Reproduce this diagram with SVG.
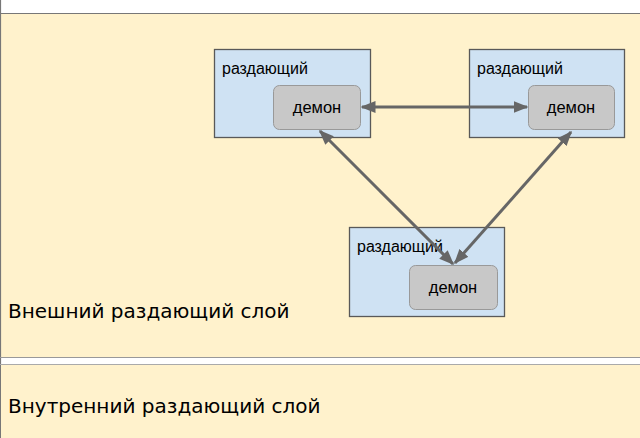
<svg xmlns="http://www.w3.org/2000/svg" width="640" height="438" viewBox="0 0 640 438">
<style>
.layer{fill:#fff2cc;}
.lt{font-family:"DejaVu Sans",sans-serif;font-size:20px;fill:#000;}
.node{fill:#cfe2f3;stroke:#595959;stroke-width:1.3;}
.dm{fill:#c8c8c8;stroke:#999;stroke-width:1;}
.nt{font-family:"Liberation Sans",Arial,sans-serif;font-size:16px;fill:#000;}
.dt{font-family:"Liberation Sans",Arial,sans-serif;font-size:16.5px;fill:#000;text-anchor:middle;}
.c{stroke:#666;stroke-width:3;fill:none;marker-start:url(#ah);marker-end:url(#ah);}
</style>
<defs>
<marker id="ah" viewBox="0 0 10 8" refX="9" refY="4" markerWidth="5" markerHeight="4" orient="auto-start-reverse" markerUnits="strokeWidth">
<path d="M0,0 L10,4 L0,8 z" fill="#666"/>
</marker>
</defs>
<rect x="0" y="0" width="640" height="438" fill="#fff"/>
<g id="outer-layer">
<rect class="layer" x="1" y="14" width="639" height="343"/>
<line x1="0" y1="13.5" x2="640" y2="13.5" stroke="#777" stroke-width="1.2"/>
<line x1="0.5" y1="0" x2="0.5" y2="438" stroke="#777" stroke-width="1.2"/>
<line x1="0" y1="357.5" x2="640" y2="357.5" stroke="#999" stroke-width="1.2"/>
<text class="lt" x="8" y="318">Внешний раздающий слой</text>
</g>
<g id="inner-layer">
<rect class="layer" x="1" y="365" width="639" height="73"/>
<line x1="0" y1="364.5" x2="640" y2="364.5" stroke="#aaa" stroke-width="1.2"/>
<text class="lt" x="8" y="413">Внутренний раздающий слой</text>
</g>
<g id="node1">
<rect class="node" x="214.5" y="49.5" width="156" height="88"/>
<text class="nt" x="222" y="74">раздающий</text>
<rect class="dm" x="273.5" y="85.5" width="87" height="44" rx="6"/>
<text class="dt" x="317" y="113">демон</text>
</g>
<g id="node2">
<rect class="node" x="469.5" y="49.5" width="155" height="88"/>
<text class="nt" x="477" y="74">раздающий</text>
<rect class="dm" x="528.5" y="85.5" width="86" height="44" rx="6"/>
<text class="dt" x="571" y="113">демон</text>
</g>
<g id="node3">
<rect class="node" x="349.5" y="227.5" width="155" height="89"/>
<text class="nt" x="357" y="252">раздающий</text>
<rect class="dm" x="409.5" y="265.5" width="88" height="44" rx="6"/>
<text class="dt" x="453" y="293">демон</text>
</g>
<g id="connectors">
<line class="c" x1="362" y1="107" x2="527" y2="107"/>
<line class="c" x1="320" y1="131" x2="453" y2="264"/>
<line class="c" x1="571" y1="132" x2="455" y2="263"/>
</g>
</svg>
